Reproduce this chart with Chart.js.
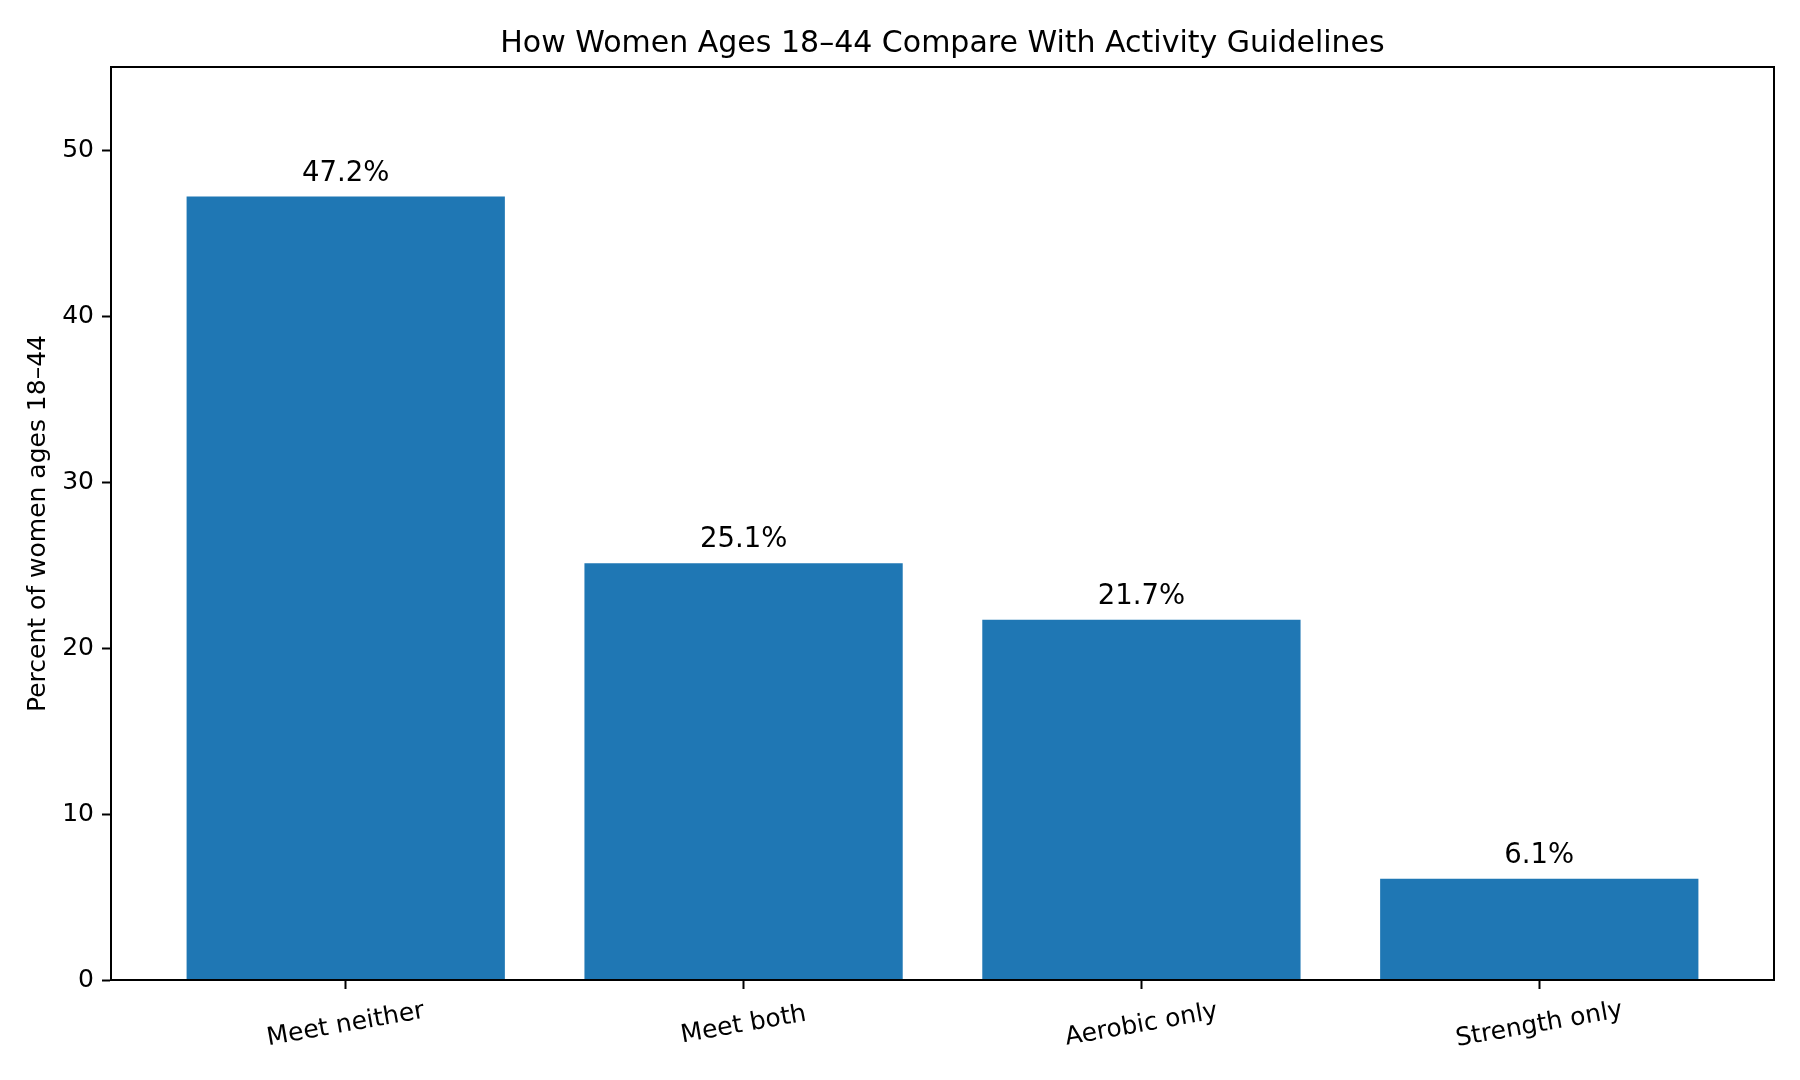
<!DOCTYPE html>
<html lang="en">
<head>
<meta charset="UTF-8">
<title>Activity guidelines</title>
<style>
    html, body { margin: 0; padding: 0; background: #fff; }
    #wrap { width: 1800px; height: 1080px; }
</style>
</head>
<body>
<div id="wrap"><canvas id="myChart" width="1800" height="1080"></canvas></div>

<script src="https://cdn.jsdelivr.net/npm/chart.js"></script>
<script>
    const categories = ['Meet neither', 'Meet both', 'Aerobic only', 'Strength only'];
    const percents = [47.2, 25.1, 21.7, 6.1];
    const yTicks = [0, 10, 20, 30, 40, 50];

    const FONT = "'DejaVu Sans', sans-serif";

    // box round the plot area (all four spines)
    const frame = {
        id: 'frame',
        afterDatasetsDraw(chart) {
            const { ctx, chartArea: a } = chart;
            ctx.save();
            ctx.strokeStyle = '#000';
            ctx.lineWidth = 2;
            ctx.strokeRect(a.left, a.top, a.right - a.left, a.bottom - a.top);
            ctx.restore();
        }
    };

    // value on top of each bar + slanted category names under the axis
    const barText = {
        id: 'barText',
        afterDraw(chart) {
            const { ctx } = chart;
            const x = chart.scales.x, y = chart.scales.y;
            ctx.save();
            ctx.fillStyle = '#000';
            ctx.textAlign = 'center';
            ctx.textBaseline = 'middle';
            ctx.font = '27.5px ' + FONT;
            percents.forEach((v, i) => {
                ctx.fillText(v.toFixed(1) + '%', x.getPixelForValue(i), y.getPixelForValue(v) - 23);
            });
            ctx.font = '25px ' + FONT;
            categories.forEach((c, i) => {
                ctx.save();
                ctx.translate(x.getPixelForValue(i), y.bottom + 45);
                ctx.rotate(-10 * Math.PI / 180);
                ctx.fillText(c, 0, 0);
                ctx.restore();
            });
            ctx.restore();
        }
    };

    Chart.defaults.color = '#000';
    Chart.defaults.font.family = FONT;

    new Chart(document.getElementById('myChart'), {
        type: 'bar',
        data: {
            datasets: [{
                data: percents.map((v, i) => ({ x: i, y: v })),
                backgroundColor: '#1f77b4',
                borderWidth: 0,
                barPercentage: 0.8,
                categoryPercentage: 1.0
            }]
        },
        options: {
            responsive: false,
            animation: false,
            devicePixelRatio: 1,
            layout: { padding: { left: 0, right: 26, top: 0, bottom: 0 } },
            plugins: {
                legend: { display: false },
                tooltip: { enabled: false },
                title: {
                    display: true,
                    fullSize: false,
                    text: 'How Women Ages 18–44 Compare With Activity Guidelines',
                    font: { size: 30, weight: 'normal' },
                    color: '#000',
                    padding: { top: 26, bottom: 5 }
                }
            },
            scales: {
                x: {
                    type: 'linear',
                    min: -0.59,
                    max: 3.59,
                    offset: false,
                    afterBuildTicks: (s) => { s.ticks = categories.map((c, i) => ({ value: i })); },
                    afterFit: (s) => { s.height = 100; },
                    ticks: { display: false },
                    grid: { display: true, offset: false, drawOnChartArea: false, drawTicks: true, tickLength: 9, tickColor: '#000', tickWidth: 2 },
                    border: { display: true, color: '#000', width: 2 }
                },
                y: {
                    min: 0,
                    max: 55,
                    afterBuildTicks: (s) => { s.ticks = yTicks.map(v => ({ value: v })); },
                    afterFit: (s) => { s.width = 111; },
                    ticks: { font: { size: 25 }, padding: 8, color: '#000' },
                    grid: { display: true, drawOnChartArea: false, drawTicks: true, tickLength: 9, tickColor: '#000', tickWidth: 2 },
                    border: { display: true, color: '#000', width: 2 },
                    title: {
                        display: true,
                        text: 'Percent of women ages 18–44',
                        font: { size: 25 },
                        color: '#000',
                        padding: { top: 23, bottom: 0 }
                    }
                }
            }
        },
        plugins: [frame, barText]
    });
</script>
</body>
</html>
